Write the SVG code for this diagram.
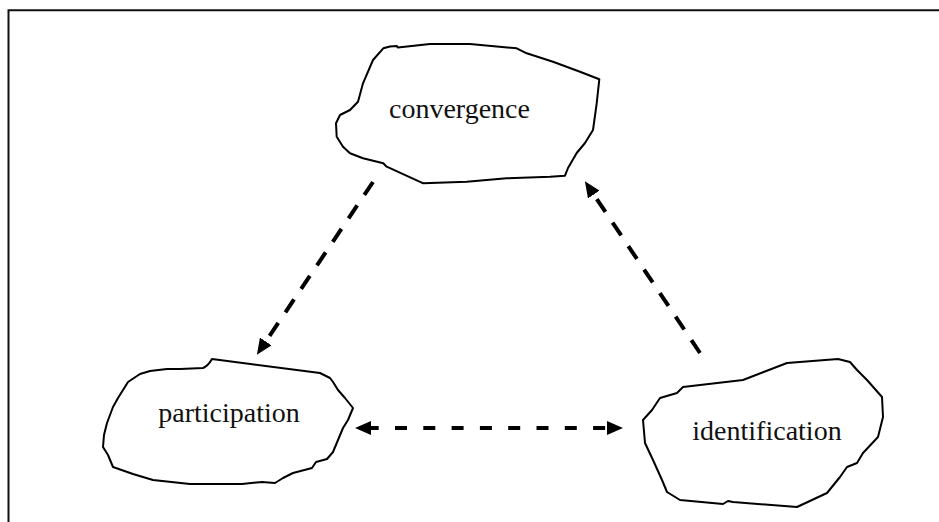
<svg xmlns="http://www.w3.org/2000/svg" width="939" height="522" viewBox="0 0 939 522">
<style>
.blob{fill:#fff;stroke:#000;stroke-width:2;stroke-linejoin:round;stroke-linecap:round}
.lbl{font-family:"Liberation Serif","Times New Roman",serif;font-size:28px;fill:#111;text-anchor:middle}
.conn{fill:none;stroke:#000;stroke-width:4}
.diag{stroke-dasharray:15.5 12.8}
.horiz{stroke-dasharray:12 16.3;stroke-dashoffset:4.3}
</style>
<defs>
<marker id="ah" markerUnits="userSpaceOnUse" viewBox="0 -7 16 14" refX="0" refY="0" markerWidth="16" markerHeight="14" orient="auto-start-reverse">
<path d="M0,-7 L16,0 L0,7 Z" fill="#000"/>
</marker>
</defs>
<rect width="939" height="522" fill="#fff"/>
<path d="M8.5,522 V10.3 H939" fill="none" stroke="#111" stroke-width="2"/>
<g id="connectors">
<path class="conn diag" d="M373,182 L265.8,341.4" marker-end="url(#ah)"/>
<path class="conn diag" d="M700,353 L593.8,194.6" marker-end="url(#ah)"/>
<path class="conn horiz" d="M371,428 L607,428" marker-start="url(#ah)" marker-end="url(#ah)"/>
</g>
<g id="convergence">
<path class="blob" d="M383.3,48.3 L390,46.5 L396.7,46 L398,47.5 L430,44 L470,44 L516.7,48.3 L526.7,53.3 L553,61.7 L580,71.7 L599.3,79.3 L596.7,103.3 L593,130 L585,143 L576.7,153 L568,168 L565,175.7 L550,176.7 L506.7,178.3 L466.7,181.7 L423.3,183.3 L386.7,166.7 L383.3,163.3 L363,158.3 L350,153.3 L343,146.7 L336.7,136.7 L336,123.3 L340,115 L350,110 L358,101.7 L363,83.3 L373,60 Z"/>
<text class="lbl" x="459.5" y="117.5">convergence</text>
</g>
<g id="participation">
<path class="blob" d="M212,359 L320,373 L330,378 L333,382 L338,390 L345,398 L353,408 L348,420 L343,428 L338,440 L333,452 L327,459 L316,462 L312,468 L293,473 L283,478 L275,483 L262,482 L242,484 L190,484 L153,480 L133,474 L113,467 L108,455 L103,447 L104,435 L107,423 L113,407 L118,398 L123,390 L128,382 L140,374 L150,371 L167,369 L180,369 L203,368 Q208,366 212,359 Z"/>
<text class="lbl" x="229" y="421.7">participation</text>
</g>
<g id="identification">
<path class="blob" d="M838,359 L787,363 L743,380 L683,387 L677,393 L660,398 L652,410 L643,420 L645,443 L653,460 L662,480 L667,492 L680,500 L723,504 L728,501 L733,502 L797,507 L827,493 L840,477 L847,467 L857,463 L863,453 L878,437 L883,417 L882,397 L867,380 L857,370 L850,362 Z"/>
<text class="lbl" x="767" y="440">identification</text>
</g>
</svg>
